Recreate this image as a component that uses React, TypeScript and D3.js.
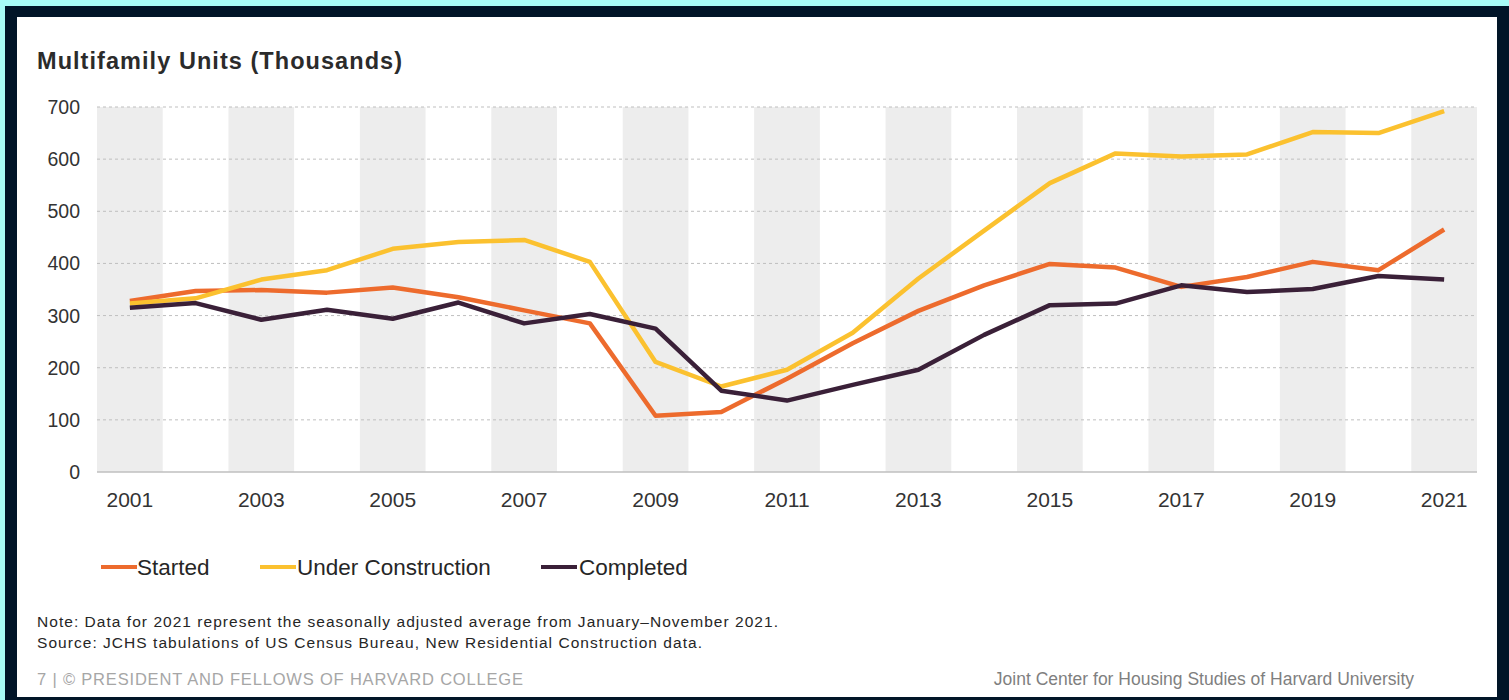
import * as d3 from 'd3';
import React from 'react';

// Years on the x axis
const years = d3.range(2001, 2022).map(String);
const tickYears = ['2001', '2003', '2005', '2007', '2009', '2011', '2013', '2015', '2017', '2019', '2021'];
const yTicks = [0, 100, 200, 300, 400, 500, 600, 700];

// Series values (thousands of units)
const started = [328, 347, 349, 344, 354, 335, 310, 285, 108, 115, 179, 247, 309, 358, 399, 392, 355, 374, 403, 387, 465];
const underConstruction = [323, 333, 369, 387, 428, 441, 445, 403, 211, 164, 196, 267, 371, 463, 554, 611, 605, 609, 652, 650, 692];
const completed = [315, 324, 292, 311, 294, 325, 285, 303, 275, 156, 137, 167, 196, 263, 320, 323, 358, 345, 351, 376, 369];

const series = [
  { name: 'Started', values: started, color: '#ED6B2D' },
  { name: 'Under Construction', values: underConstruction, color: '#FBC12F' },
  { name: 'Completed', values: completed, color: '#3A2038' },
];

const W = 1509;
const H = 700;
const font = '"Liberation Sans", Arial, sans-serif';

const App = () => {
  const x = d3.scaleBand().domain(years).range([97, 1477]).padding(0);
  const y = d3.scaleLinear().domain([0, 700]).range([472, 107]);

  const line = d3
    .line<number>()
    .x((_, i) => (x(years[i]) as number) + x.bandwidth() / 2)
    .y((d) => y(d));

  // legend positions
  const legend = [
    { lx: 101, tx: 137 },
    { lx: 260, tx: 297 },
    { lx: 541, tx: 579 },
  ];

  return (
    <>
      <style>{'body{margin:0;}'}</style>
      <svg width={W} height={H} style={{ display: 'block', fontFamily: font }}>
        {/* frame */}
        <rect x={0} y={0} width={W} height={H} fill="#A8FCF7" />
        <rect x={5} y={6} width={W - 5} height={H - 6} fill="#011528" />
        <rect x={17} y={17} width={1480} height={680} fill="#FFFFFF" />

        {/* title */}
        <text x={37} y={69} fontSize={23.5} fontWeight="bold" fill="#2B2B2B" textLength={365} lengthAdjust="spacing">
          Multifamily Units (Thousands)
        </text>

        {/* alternating bands */}
        {years.map((yr, i) =>
          i % 2 === 0 ? (
            <rect key={yr} x={x(yr)} y={y(700)} width={x.bandwidth()} height={y(0) - y(700)} fill="#EDEDED" />
          ) : null
        )}

        {/* grid lines */}
        {yTicks.filter((t) => t > 0).map((t) => (
          <line key={t} x1={97} x2={1477} y1={y(t)} y2={y(t)} stroke="#BFBFBF" strokeWidth={1} strokeDasharray="3,3" />
        ))}
        <line x1={97} x2={1477} y1={y(0)} y2={y(0)} stroke="#BFBFBF" strokeWidth={1.5} />

        {/* y tick labels */}
        {yTicks.map((t) => (
          <text key={t} x={80} y={y(t) + 7} fontSize={19.5} textAnchor="end" fill="#333">
            {t}
          </text>
        ))}

        {/* x tick labels */}
        {tickYears.map((yr) => (
          <text key={yr} x={(x(yr) as number) + x.bandwidth() / 2} y={507} fontSize={21} textAnchor="middle" fill="#333">
            {yr}
          </text>
        ))}

        {/* lines */}
        {series.map((s) => (
          <path key={s.name} d={line(s.values) as string} fill="none" stroke={s.color} strokeWidth={4.5} strokeLinejoin="round" />
        ))}

        {/* legend */}
        {series.map((s, i) => (
          <g key={s.name}>
            <line x1={legend[i].lx} x2={legend[i].lx + 36} y1={567} y2={567} stroke={s.color} strokeWidth={4} />
            <text x={legend[i].tx} y={575} fontSize={22.5} fill="#262626">
              {s.name}
            </text>
          </g>
        ))}

        {/* notes */}
        <text x={37} y={627} fontSize={15.5} fill="#262626" textLength={741} lengthAdjust="spacing">
          Note: Data for 2021 represent the seasonally adjusted average from January–November 2021.
        </text>
        <text x={37} y={648} fontSize={15.5} fill="#262626" textLength={665} lengthAdjust="spacing">
          Source: JCHS tabulations of US Census Bureau, New Residential Construction data.
        </text>

        {/* footer */}
        <text x={37} y={685} fontSize={16.5} fill="#A6A6A6" textLength={486} lengthAdjust="spacing">
          7 | © PRESIDENT AND FELLOWS OF HARVARD COLLEGE
        </text>
        <text x={1414} y={685} fontSize={17.5} fill="#7F7F7F" textAnchor="end">
          Joint Center for Housing Studies of Harvard University
        </text>
      </svg>
    </>
  );
};

export default App;
